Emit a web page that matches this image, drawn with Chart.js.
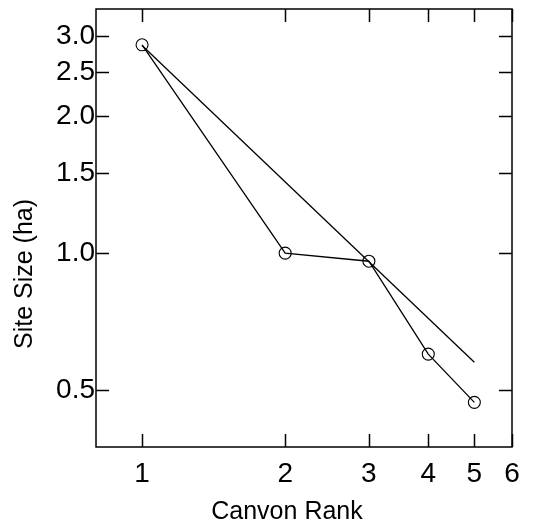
<!DOCTYPE html>
<html>
<head>
<meta charset="utf-8">
<script src="https://cdn.jsdelivr.net/npm/chart.js@4/dist/chart.umd.min.js"></script>
<style>
  html, body { margin: 0; padding: 0; background: #fff; }
  #wrap { width: 548px; height: 529px; }
</style>
</head>
<body>
<div id="wrap"><canvas id="grafico" width="548" height="529"></canvas></div>
<script>
// dados
const ranks = [1, 2, 3, 4, 5];
const siteSizes = [2.87, 1.0, 0.96, 0.6, 0.47];
const fitRanks = [1, 5];
const fitSizes = [2.86, 0.576];
const xTicks = [1, 2, 3, 4, 5, 6];
const yTicks = [0.5, 1.0, 1.5, 2.0, 2.5, 3.0];
const xTitle = 'Canvon Rank';
const yTitle = 'Site Size (ha)';

const fonte = "'Liberation Sans', Arial, sans-serif";

// moldura, ticks internos nos quatro lados e títulos dos eixos
const molduraPlugin = {
    id: 'moldura',
    afterDraw(chart) {
        const ctx = chart.ctx;
        const a = chart.chartArea;
        const sx = chart.scales.x;
        const sy = chart.scales.y;
        const len = 13;
        ctx.save();
        ctx.strokeStyle = '#000';
        ctx.lineWidth = 1.5;
        ctx.strokeRect(a.left, a.top, a.right - a.left, a.bottom - a.top);
        ctx.beginPath();
        xTicks.forEach(v => {
            const px = Math.round(sx.getPixelForValue(v)) + 0.5;
            ctx.moveTo(px, a.bottom); ctx.lineTo(px, a.bottom - len);
            ctx.moveTo(px, a.top); ctx.lineTo(px, a.top + len);
        });
        yTicks.forEach(v => {
            const py = Math.round(sy.getPixelForValue(v)) + 0.5;
            ctx.moveTo(a.left, py); ctx.lineTo(a.left + len, py);
            ctx.moveTo(a.right, py); ctx.lineTo(a.right - len, py);
        });
        ctx.stroke();

        ctx.fillStyle = '#000';
        ctx.font = '25px ' + fonte;
        ctx.textAlign = 'center';
        ctx.textBaseline = 'middle';
        ctx.fillText(xTitle, 287, 512);
        ctx.translate(25, 274);
        ctx.rotate(-Math.PI / 2);
        ctx.fillText(yTitle, 0, 0);
        ctx.restore();
    }
};

const grafico = new Chart(document.getElementById('grafico').getContext('2d'), {
    type: 'line',
    data: {
        datasets: [{
            label: 'Site size',
            data: ranks.map((r, i) => ({ x: r, y: siteSizes[i] })),
            borderColor: '#000',
            borderWidth: 1.3,
            pointRadius: 6,
            pointHoverRadius: 6,
            pointBorderWidth: 1.1,
            pointBorderColor: '#000',
            pointBackgroundColor: 'transparent',
            fill: false,
            tension: 0
        }, {
            label: 'Fit',
            data: fitRanks.map((r, i) => ({ x: r, y: fitSizes[i] })),
            borderColor: '#000',
            borderWidth: 1.3,
            pointRadius: 0,
            fill: false,
            tension: 0
        }]
    },
    options: {
        responsive: false,
        animation: false,
        events: [],
        layout: { padding: { top: 9, right: 36, left: 0, bottom: 0 } },
        plugins: { legend: { display: false }, tooltip: { enabled: false } },
        scales: {
            x: {
                type: 'logarithmic',
                min: 0.8,
                max: 6,
                afterBuildTicks: s => { s.ticks = xTicks.map(v => ({ value: v })); },
                afterFit: s => { s.height = 82; s.paddingLeft = 0; s.paddingRight = 0; },
                grid: { display: false, drawTicks: false },
                border: { display: false },
                ticks: {
                    color: '#000',
                    font: { family: fonte, size: 28 },
                    padding: 10,
                    maxRotation: 0,
                    autoSkip: false,
                    callback: v => String(v)
                }
            },
            y: {
                type: 'logarithmic',
                min: 0.375,
                max: 3.44,
                afterBuildTicks: s => { s.ticks = yTicks.map(v => ({ value: v })); },
                afterFit: s => { s.width = 96; s.paddingTop = 0; s.paddingBottom = 0; },
                grid: { display: false, drawTicks: false },
                border: { display: false },
                ticks: {
                    color: '#000',
                    font: { family: fonte, size: 28 },
                    padding: 1,
                    autoSkip: false,
                    callback: v => Number(v).toFixed(1)
                }
            }
        }
    },
    plugins: [molduraPlugin]
});
</script>
</body>
</html>
